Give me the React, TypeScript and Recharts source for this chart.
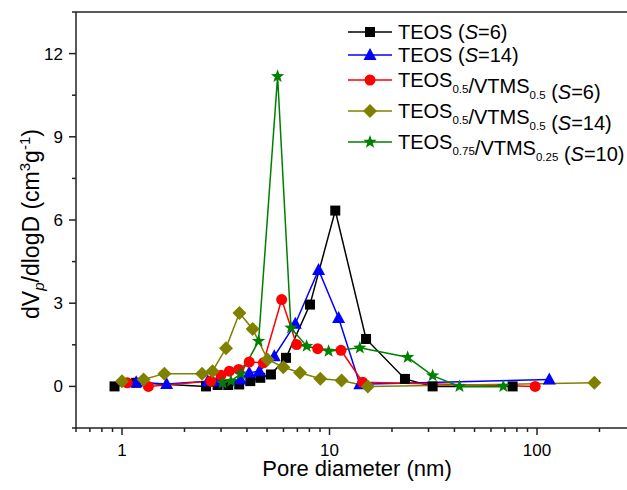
import React from 'react';
import { LineChart, Line, XAxis, YAxis, ReferenceLine } from 'recharts';

// pore diameter (nm) and dV/dlogD
const teos6D = [0.92, 1.17, 2.54, 2.89, 3.25, 3.67, 4.15, 4.64, 5.22, 6.17, 8.05, 10.66, 15.0, 23.1, 31.4, 76.3];
const teos6V = [0, 0.13, 0, 0.05, 0.05, 0.07, 0.19, 0.31, 0.43, 1.03, 2.95, 6.34, 1.71, 0.27, 0, 0];

const teos14D = [1.17, 1.64, 2.59, 2.89, 3.72, 4.1, 4.59, 5.42, 6.84, 8.86, 11.06, 14.0, 114.6];
const teos14V = [0.15, 0.09, 0.19, 0.19, 0.25, 0.49, 0.55, 1.09, 2.26, 4.2, 2.47, 0.08, 0.25];

const mix6D = [1.06, 1.34, 2.68, 3.0, 3.29, 3.65, 4.1, 4.8, 5.88, 6.94, 8.77, 11.36, 14.45, 98];
const mix6V = [0.13, 0, 0.19, 0.4, 0.55, 0.61, 0.88, 0.85, 3.13, 1.51, 1.36, 1.3, 0.15, 0];

const mix14D = [1.0, 1.27, 1.6, 2.43, 2.73, 3.17, 3.68, 4.26, 5.03, 5.99, 7.21, 9.03, 11.43, 15.3, 189];
const mix14V = [0.19, 0.25, 0.46, 0.46, 0.55, 1.38, 2.65, 2.07, 0.97, 0.69, 0.49, 0.28, 0.21, 0, 0.13];

const mix10D = [3.05, 3.35, 3.74, 4.55, 5.62, 6.52, 7.76, 9.9, 14.0, 23.8, 31.4, 42.3, 68.8];
const mix10V = [0.13, 0.19, 0.46, 1.63, 11.18, 2.11, 1.45, 1.27, 1.39, 1.05, 0.39, 0, 0];

const xTicks = [0.6, 0.7, 0.8, 0.9, 1, 2, 3, 4, 5, 6, 7, 8, 9, 10, 20, 30, 40, 50, 60, 70, 80, 90, 100, 200, 300];
const xLabels = [1, 10, 100];
const yTicks = [-1.5, 0, 1.5, 3, 4.5, 6, 7.5, 9, 10.5, 12, 13.5];
const yLabels = [0, 3, 6, 9, 12];

const zip = (d: number[], v: number[]) => d.map((x, i) => ({ d: x, v: v[i] }));

const FONT = '"Liberation Sans", Arial, sans-serif';
const AXIS = '#222';

type Shape = 'square' | 'triangle' | 'circle' | 'diamond' | 'star';

const Marker = ({ shape, cx, cy, color }: { shape: Shape; cx: number; cy: number; color: string }) => {
  if (shape === 'square') return <rect x={cx - 5} y={cy - 5} width={10} height={10} fill={color} />;
  if (shape === 'circle') return <circle cx={cx} cy={cy} r={5.5} fill={color} />;
  if (shape === 'triangle')
    return <polygon points={`${cx},${cy - 7} ${cx + 6.5},${cy + 5} ${cx - 6.5},${cy + 5}`} fill={color} />;
  if (shape === 'diamond')
    return <polygon points={`${cx},${cy - 7} ${cx + 7},${cy} ${cx},${cy + 7} ${cx - 7},${cy}`} fill={color} />;
  const pts: string[] = [];
  for (let i = 0; i < 10; i++) {
    const r = i % 2 === 0 ? 7 : 2.9;
    const a = -Math.PI / 2 + (i * Math.PI) / 5;
    pts.push(`${cx + r * Math.cos(a)},${cy + r * Math.sin(a)}`);
  }
  return <polygon points={pts.join(' ')} fill={color} />;
};

const series = [
  { key: 'teos6', data: zip(teos6D, teos6V), color: '#000000', shape: 'square' as Shape },
  { key: 'teos14', data: zip(teos14D, teos14V), color: '#0000ff', shape: 'triangle' as Shape },
  { key: 'mix6', data: zip(mix6D, mix6V), color: '#ff0000', shape: 'circle' as Shape },
  { key: 'mix14', data: zip(mix14D, mix14V), color: '#808000', shape: 'diamond' as Shape },
  { key: 'mix10', data: zip(mix10D, mix10V), color: '#008000', shape: 'star' as Shape },
];

const XTick = (props: any) => {
  const { x, y, payload } = props;
  const major = xLabels.includes(payload.value);
  return (
    <g>
      <line x1={x} x2={x} y1={y} y2={y + (major ? 7 : 4)} stroke={AXIS} strokeWidth={1.5} />
      {major && (
        <text x={x} y={y + 28} textAnchor="middle" fontSize={17} fontFamily={FONT} fill="#000">
          {payload.value}
        </text>
      )}
    </g>
  );
};

const YTick = (props: any) => {
  const { x, y, payload } = props;
  const major = yLabels.includes(payload.value);
  return (
    <g>
      <line x1={x} x2={x - (major ? 7 : 4)} y1={y} y2={y} stroke={AXIS} strokeWidth={1.5} />
      {major && (
        <text x={x - 13} y={y + 6} textAnchor="end" fontSize={17} fontFamily={FONT} fill="#000">
          {payload.value}
        </text>
      )}
    </g>
  );
};

const Sub = ({ children }: { children: string }) => (
  <>
    <tspan dy={6} fontSize={11.5}>{children}</tspan>
    <tspan dy={-6}>{''}</tspan>
  </>
);

const legendRows = [
  { y: 32, color: '#000000', shape: 'square' as Shape, label: <>TEOS (<tspan fontStyle="italic">S</tspan>=6)</> },
  { y: 55, color: '#0000ff', shape: 'triangle' as Shape, label: <>TEOS (<tspan fontStyle="italic">S</tspan>=14)</> },
  {
    y: 80, color: '#ff0000', shape: 'circle' as Shape,
    label: <>TEOS<Sub>0.5</Sub>/VTMS<Sub>0.5</Sub> (<tspan fontStyle="italic">S</tspan>=6)</>,
  },
  {
    y: 111, color: '#808000', shape: 'diamond' as Shape,
    label: <>TEOS<Sub>0.5</Sub>/VTMS<Sub>0.5</Sub> (<tspan fontStyle="italic">S</tspan>=14)</>,
  },
  {
    y: 142, color: '#008000', shape: 'star' as Shape,
    label: <>TEOS<Sub>0.75</Sub>/VTMS<Sub>0.25</Sub> (<tspan fontStyle="italic">S</tspan>=10)</>,
  },
];

export default function App() {
  return (
    <div style={{ position: 'absolute', left: 0, top: 0, width: 627, height: 490, overflow: 'hidden', background: '#fff' }}>
      <LineChart width={660} height={490} margin={{ top: 12, right: 24, left: 0, bottom: 0 }}>
        <XAxis
          dataKey="d"
          type="number"
          scale="log"
          domain={[0.6, 300]}
          ticks={xTicks}
          allowDataOverflow
          height={62}
          tickLine={false}
          tickSize={0}
          tickMargin={0}
          tick={<XTick />}
          interval={0}
          axisLine={{ stroke: AXIS, strokeWidth: 1.5 }}
        />
        <YAxis
          type="number"
          domain={[-1.5, 13.5]}
          ticks={yTicks}
          width={76}
          tickLine={false}
          tickSize={0}
          tickMargin={0}
          tick={<YTick />}
          interval={0}
          allowDataOverflow
          axisLine={{ stroke: AXIS, strokeWidth: 1.5 }}
        />
        <ReferenceLine y={13.5} stroke={AXIS} strokeWidth={1.5} />
        {series.map((s) => (
          <Line
            key={s.key}
            data={s.data}
            dataKey="v"
            type="linear"
            stroke={s.color}
            strokeWidth={1.5}
            isAnimationActive={false}
            activeDot={false}
            dot={(p: any) => <Marker key={`${s.key}-${p.index}`} shape={s.shape} cx={p.cx} cy={p.cy} color={s.color} />}
          />
        ))}
      </LineChart>
      <svg width={627} height={490} style={{ position: 'absolute', left: 0, top: 0, pointerEvents: 'none' }}>
        <text
          transform="translate(39,224) rotate(-90)"
          textAnchor="middle"
          fontSize={23}
          fontFamily={FONT}
          fill="#000"
        >
          dV<tspan dy={5} fontSize={15} fontStyle="italic">p</tspan>
          <tspan dy={-5}>/dlogD (cm</tspan>
          <tspan dy={-9} fontSize={15}>3</tspan>
          <tspan dy={9}>g</tspan>
          <tspan dy={-9} fontSize={15}>-1</tspan>
          <tspan dy={9}>)</tspan>
        </text>
        <text x={357} y={476} textAnchor="middle" fontSize={22} fontFamily={FONT} fill="#000">
          Pore diameter (nm)
        </text>
        {legendRows.map((r, i) => (
          <g key={i}>
            <line x1={348} x2={392} y1={r.y} y2={r.y} stroke={r.color} strokeWidth={1.5} />
            <Marker shape={r.shape} cx={370} cy={r.y} color={r.color} />
            <text x={398} y={r.y + 6.5} fontSize={20} fontFamily={FONT} fill="#000">
              {r.label}
            </text>
          </g>
        ))}
      </svg>
    </div>
  );
}
